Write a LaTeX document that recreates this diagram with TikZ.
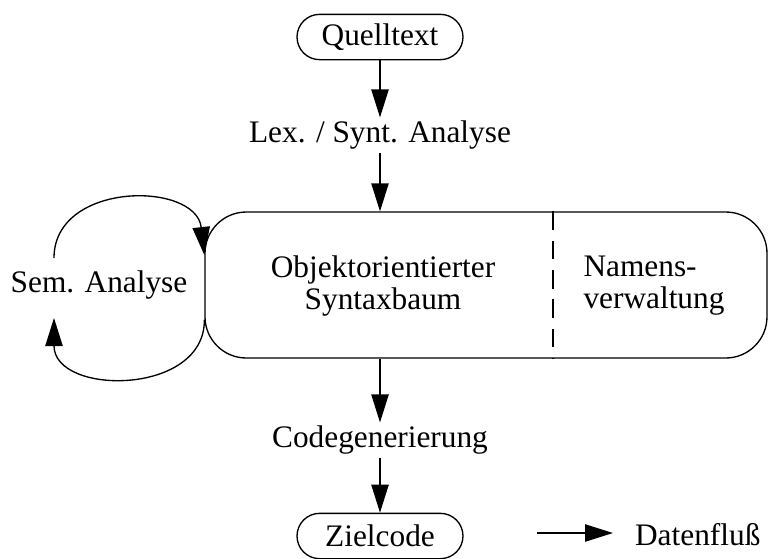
\documentclass[tikz,border=0pt]{standalone}
\usepackage{fontspec}
\setmainfont{Liberation Serif}
\usetikzlibrary{arrows.meta}
\begin{document}
\begin{tikzpicture}[x=0.75pt,y=-0.75pt,
  line width=1pt,
  every node/.style={font=\fontsize{23.5}{24}\selectfont},
  flow/.style={-{Triangle[length=21pt,width=13pt]}},
  term/.style={draw,rounded corners=17pt,minimum width=124.5pt,minimum height=34pt,inner sep=0pt},
  stage/.style={inner sep=2pt},
  store/.style={draw,rounded corners=31pt,minimum width=421.5pt,minimum height=109.5pt}]
\useasboundingbox (0,0) rectangle (775,558);

% terminals
\node[term] (q) at (380,37) {Quelltext};
\node[term] (z) at (380,536) {Zielcode};

% central data structure
\node[store] (box) at (486,285) {};
\node[align=center] (ast) at (383,286) {Objektorientierter\\Syntaxbaum};
\node[align=left] (names) at (654,286) {Namens-\\verwaltung};
\draw[dashed,dash pattern=on 14pt off 8pt] ((553,0 |- box.north) -- ((553,0 |- box.south);

% phases
\node[stage] (lex) at (380,135) {Lex. / Synt. Analyse};
\node[stage] (code) at (380,440) {Codegenerierung};
\node[stage] (sem) at (99,285) {Sem. Analyse};

\draw[flow] (q.south) -- (lex.north);
\draw[flow] (lex.south) -- (lex.south |- box.north);
\draw[flow] (code.north |- box.south) -- (code.north);
\draw[flow] (code.south) -- (z.north);

% semantic analysis loop
\coordinate (s1) at (54,258);
\coordinate (s2) at (54,318);
\coordinate (b1) at (box.west |- 0,255);
\coordinate (b2) at (box.west |- 0,320);
\draw[flow] (s1) .. controls (54,181) and (196,181) .. (b1);
\draw[flow] (b2) .. controls (205,396) and (54,396) .. (s2);

% legend
\coordinate (l1) at (537,533);
\coordinate (l2) at (613,533);
\draw[flow] (l1) -- (l2);
\node[anchor=west] (leg) at (630,535) {Datenfluß};
\end{tikzpicture}
\end{document}
